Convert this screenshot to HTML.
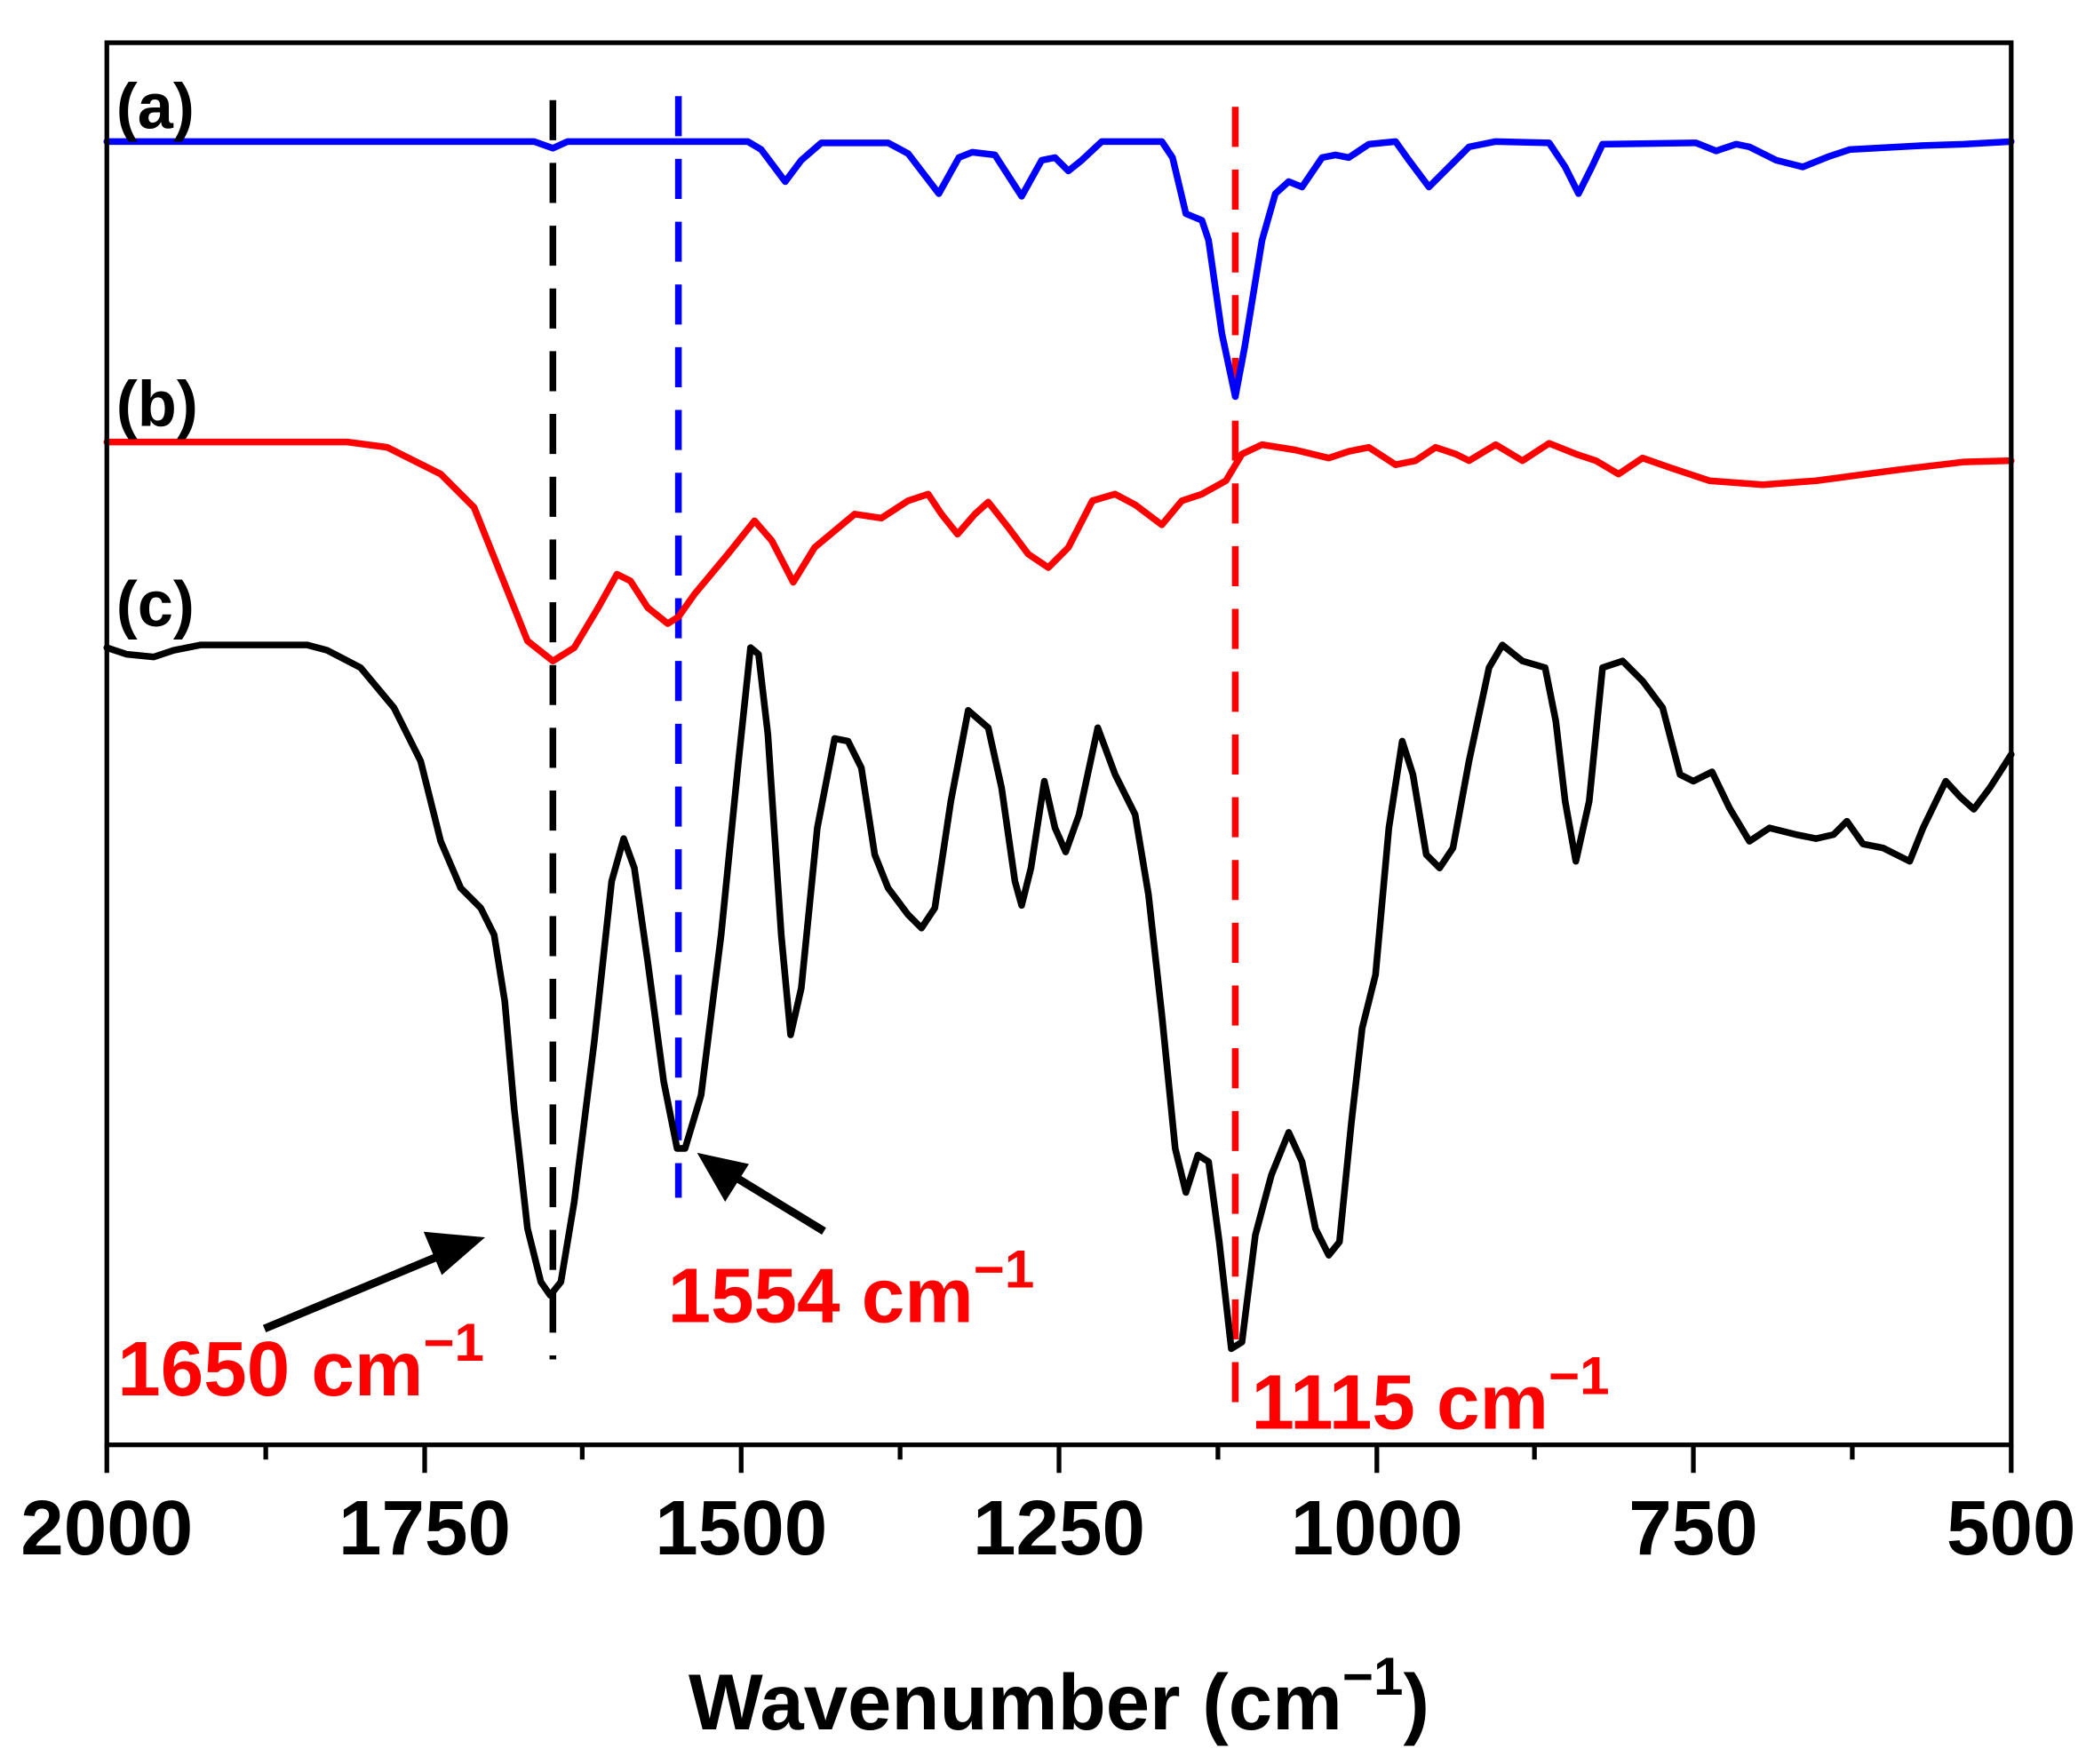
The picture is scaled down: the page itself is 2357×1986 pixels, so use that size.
<!DOCTYPE html>
<html><head><meta charset="utf-8"><style>html,body{margin:0;padding:0;background:#fff}svg{display:block}</style></head>
<body>
<svg width="2357" height="1986" viewBox="0 0 1568 1321" preserveAspectRatio="none" xmlns="http://www.w3.org/2000/svg" font-family="Liberation Sans, Arial, sans-serif" font-weight="bold">
<rect x="0" y="0" width="1568" height="1321" fill="#fff"/>
<line x1="414" y1="75" x2="414" y2="1018" stroke="#000" stroke-width="5" stroke-dasharray="30,17"/>
<line x1="508" y1="72" x2="508" y2="897" stroke="#0000ff" stroke-width="5" stroke-dasharray="30,17"/>
<line x1="925" y1="80" x2="925" y2="1050" stroke="#ff0000" stroke-width="5" stroke-dasharray="30,17"/>
<g fill="none" stroke-width="5" stroke-linejoin="round" stroke-linecap="round">
<polyline stroke="#0000ff" points="80,106 400,106 414,111 425,106 560,106 570,112 588,136 600,120 615,107 665,107 680,115 703,145 718,118 728,114 745,116 765,147 780,120 790,118 800,128 810,120 825,106 870,106 878,118 888,160 900,165 905,180 915,250 925,297 932,260 945,180 955,145 965,136 975,140 990,118 1000,116 1010,118 1025,108 1045,106 1055,120 1070,140 1085,125 1100,110 1120,106 1160,107 1172,125 1182,145 1192,125 1200,108 1270,107 1285,113 1300,108 1310,110 1330,120 1350,125 1370,117 1385,112 1440,109 1470,108 1506,106"/>
<polyline stroke="#ff0000" points="80,331 260,331 290,335 330,355 355,380 375,430 395,480 414,495 430,485 448,455 462,430 472,435 485,455 500,467 508,462 520,445 545,415 565,390 578,405 594,436 610,410 640,385 660,388 680,375 695,370 705,385 717,400 730,385 740,376 755,395 770,415 785,425 800,410 818,375 835,370 850,378 870,393 885,375 900,370 918,360 930,340 945,333 970,337 995,343 1010,338 1025,335 1045,348 1060,345 1075,335 1090,340 1100,345 1120,333 1140,345 1160,332 1180,340 1195,345 1212,355 1230,343 1250,350 1280,360 1320,363 1360,360 1420,352 1470,346 1506,345"/>
<polyline stroke="#000" points="80,485 95,490 115,492 130,487 150,483 230,483 245,487 270,500 295,530 315,570 330,630 345,665 360,680 370,700 378,750 385,830 395,920 405,960 412,970 420,960 430,900 445,780 458,660 467,628 475,650 485,720 497,810 507,860 513,860 525,820 540,700 553,570 562,485 568,490 575,550 585,700 592,775 600,740 612,620 625,553 635,555 645,575 655,640 665,665 680,685 690,695 700,680 712,600 725,532 740,545 750,590 760,660 765,678 772,650 782,585 790,620 798,638 808,610 822,545 835,580 850,610 860,670 870,760 880,860 888,893 897,865 905,870 913,930 922,1010 930,1005 940,925 952,880 965,848 975,870 985,920 995,940 1003,930 1012,840 1020,770 1030,730 1040,620 1050,555 1058,580 1068,640 1078,650 1088,635 1100,570 1115,500 1125,483 1140,495 1157,500 1165,540 1172,600 1180,645 1190,600 1200,500 1215,495 1230,510 1245,530 1258,580 1268,585 1282,578 1295,605 1310,630 1325,620 1345,625 1360,628 1373,625 1383,615 1395,632 1410,635 1420,640 1430,645 1440,620 1457,585 1468,597 1478,606 1490,590 1506,565"/>
</g>
<rect x="80" y="32" width="1426" height="1050" fill="none" stroke="#000" stroke-width="3.5"/>
<g stroke="#000" stroke-width="3.5">
<line x1="80" y1="1082" x2="80" y2="1103"/><line x1="318" y1="1082" x2="318" y2="1103"/><line x1="555" y1="1082" x2="555" y2="1103"/><line x1="793" y1="1082" x2="793" y2="1103"/><line x1="1031" y1="1082" x2="1031" y2="1103"/><line x1="1268" y1="1082" x2="1268" y2="1103"/><line x1="1506" y1="1082" x2="1506" y2="1103"/>
<line x1="199" y1="1082" x2="199" y2="1093"/><line x1="436" y1="1082" x2="436" y2="1093"/><line x1="674" y1="1082" x2="674" y2="1093"/><line x1="912" y1="1082" x2="912" y2="1093"/><line x1="1149" y1="1082" x2="1149" y2="1093"/><line x1="1387" y1="1082" x2="1387" y2="1093"/>
</g>
<g font-size="58" text-anchor="middle" fill="#000">
<text x="80" y="1164">2000</text><text x="318" y="1164">1750</text><text x="555" y="1164">1500</text><text x="793" y="1164">1250</text><text x="1031" y="1164">1000</text><text x="1268" y="1164">750</text><text x="1506" y="1164">500</text>
</g>
<text x="793" y="1295" font-size="59" text-anchor="middle" fill="#000">Wavenumber (cm<tspan font-size="40" dy="-26">−1</tspan><tspan dy="26">)</tspan></text>
<g font-size="48" fill="#000">
<text x="87" y="96">(a)</text><text x="87" y="319">(b)</text><text x="87" y="469">(c)</text>
</g>
<g font-size="58" fill="#ff0000">
<text x="88" y="1045">1650 cm<tspan font-size="40" dy="-26">−1</tspan></text>
<text x="500" y="990">1554 cm<tspan font-size="40" dy="-26">−1</tspan></text>
<text x="937" y="1070">1115 cm<tspan font-size="40" dy="-26">−1</tspan></text>
</g>
<g stroke="#000" stroke-width="6" fill="#000">
<line x1="198" y1="995" x2="335" y2="938"/>
<polygon points="362,927 318,923 331,954" stroke-width="1"/>
<line x1="617" y1="922" x2="545" y2="878"/>
<polygon points="523,864 543,899 560,872" stroke-width="1"/>
</g>
</svg>
</body></html>
